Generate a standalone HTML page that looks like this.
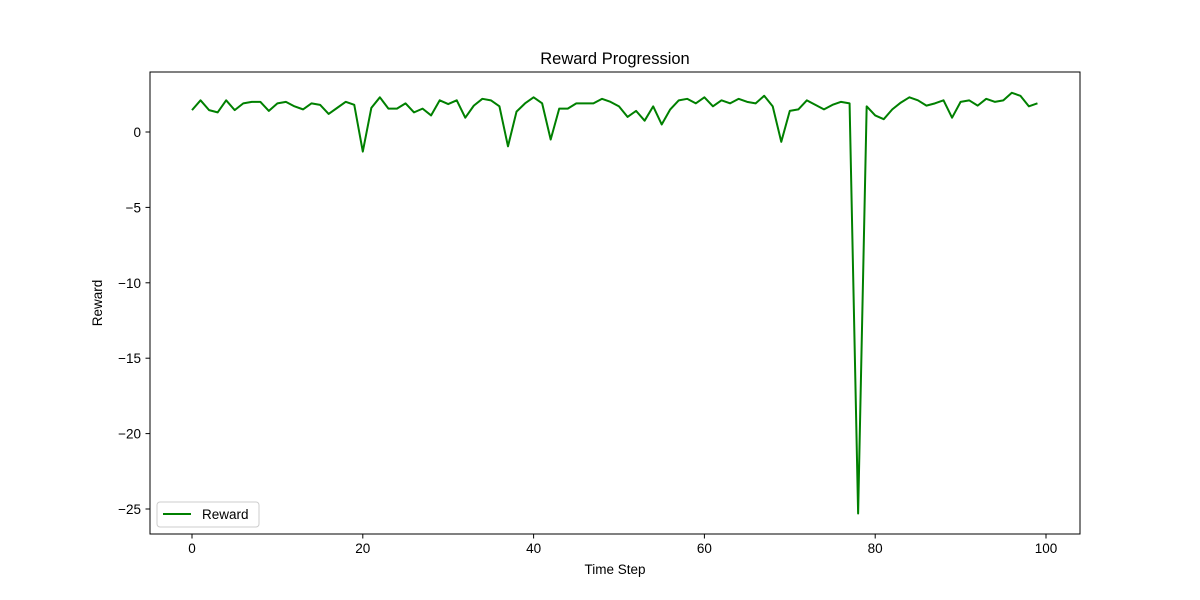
<!DOCTYPE html>
<html><head><meta charset="utf-8"><style>body{margin:0;background:#fff}svg{display:block;font-family:"Liberation Sans","DejaVu Sans",sans-serif}</style></head>
<body>
<svg id="chart" width="1200" height="600">
<rect width="1200" height="600" fill="#fff"/>
<text x="615" y="64" font-size="16.5" text-anchor="middle">Reward Progression</text>
<g id="grid"></g>
<g id="line"></g>
<rect x="150" y="72" width="930" height="462" fill="none" stroke="#000" stroke-width="1"/>
<text x="615" y="574" font-size="13.5" text-anchor="middle">Time Step</text>
<text transform="translate(102,303) rotate(-90)" font-size="13.5" text-anchor="middle">Reward</text>
<g>
<rect x="157" y="502" width="102" height="25" rx="3" fill="#fff" stroke="#ccc"/>
<line x1="163" y1="514" x2="191" y2="514" stroke="#008000" stroke-width="2"/>
<text x="202" y="519" font-size="13.5">Reward</text>
</g>
</svg>
<script>
const rewards=[1.45,2.1,1.45,1.3,2.1,1.45,1.9,2.0,2.0,1.4,1.9,2.0,1.7,1.5,1.9,1.8,1.2,1.6,2.0,1.8,-1.3,1.6,2.3,1.55,1.55,1.9,1.3,1.55,1.1,2.1,1.85,2.1,0.95,1.75,2.2,2.1,1.7,-0.95,1.35,1.9,2.3,1.9,-0.5,1.55,1.55,1.9,1.9,1.9,2.2,2.0,1.7,1.0,1.4,0.75,1.7,0.5,1.5,2.1,2.2,1.9,2.3,1.7,2.1,1.9,2.2,2.0,1.9,2.4,1.7,-0.65,1.4,1.5,2.1,1.8,1.5,1.8,2.0,1.9,-25.3,1.7,1.1,0.85,1.5,1.95,2.3,2.1,1.75,1.9,2.1,0.95,2.0,2.1,1.75,2.2,2.0,2.1,2.6,2.4,1.7,1.9];
const xTicks=[0,20,40,60,80,100];
const yTicks=[0,-5,-10,-15,-20,-25];
const X=v=>192+v*8.54;
const Y=v=>132-v*15.08;
const NS="http://www.w3.org/2000/svg";
const svg=document.getElementById('chart');
const g=document.getElementById('grid');
function el(t,a,p){const e=document.createElementNS(NS,t);for(const k in a)e.setAttribute(k,a[k]);(p||g).appendChild(e);return e;}
xTicks.forEach(t=>{
 const l=el('line',{x1:X(t),x2:X(t),y1:534,y2:538.5,stroke:'#000'});
 
 
 const tx=el('text',{x:X(t),y:553,'font-size':13.5,'text-anchor':'middle'});
 tx.textContent=t;
 
 
});
yTicks.forEach(t=>{
 const l=el('line',{x1:145.5,x2:150,y1:Y(t),y2:Y(t),stroke:'#000'});
 
 
 const tx=el('text',{x:141,y:Y(t)+5,'font-size':13.5,'text-anchor':'end'});
 tx.textContent=t<0?'\u2212'+(-t):t;
 
 
});
const p=el('polyline',{points:rewards.map((v,i)=>X(i)+','+Y(v)).join(' '),fill:'none',stroke:'#008000','stroke-width':2,'stroke-linejoin':'round'},document.getElementById('line'));


</script>
</body></html>
